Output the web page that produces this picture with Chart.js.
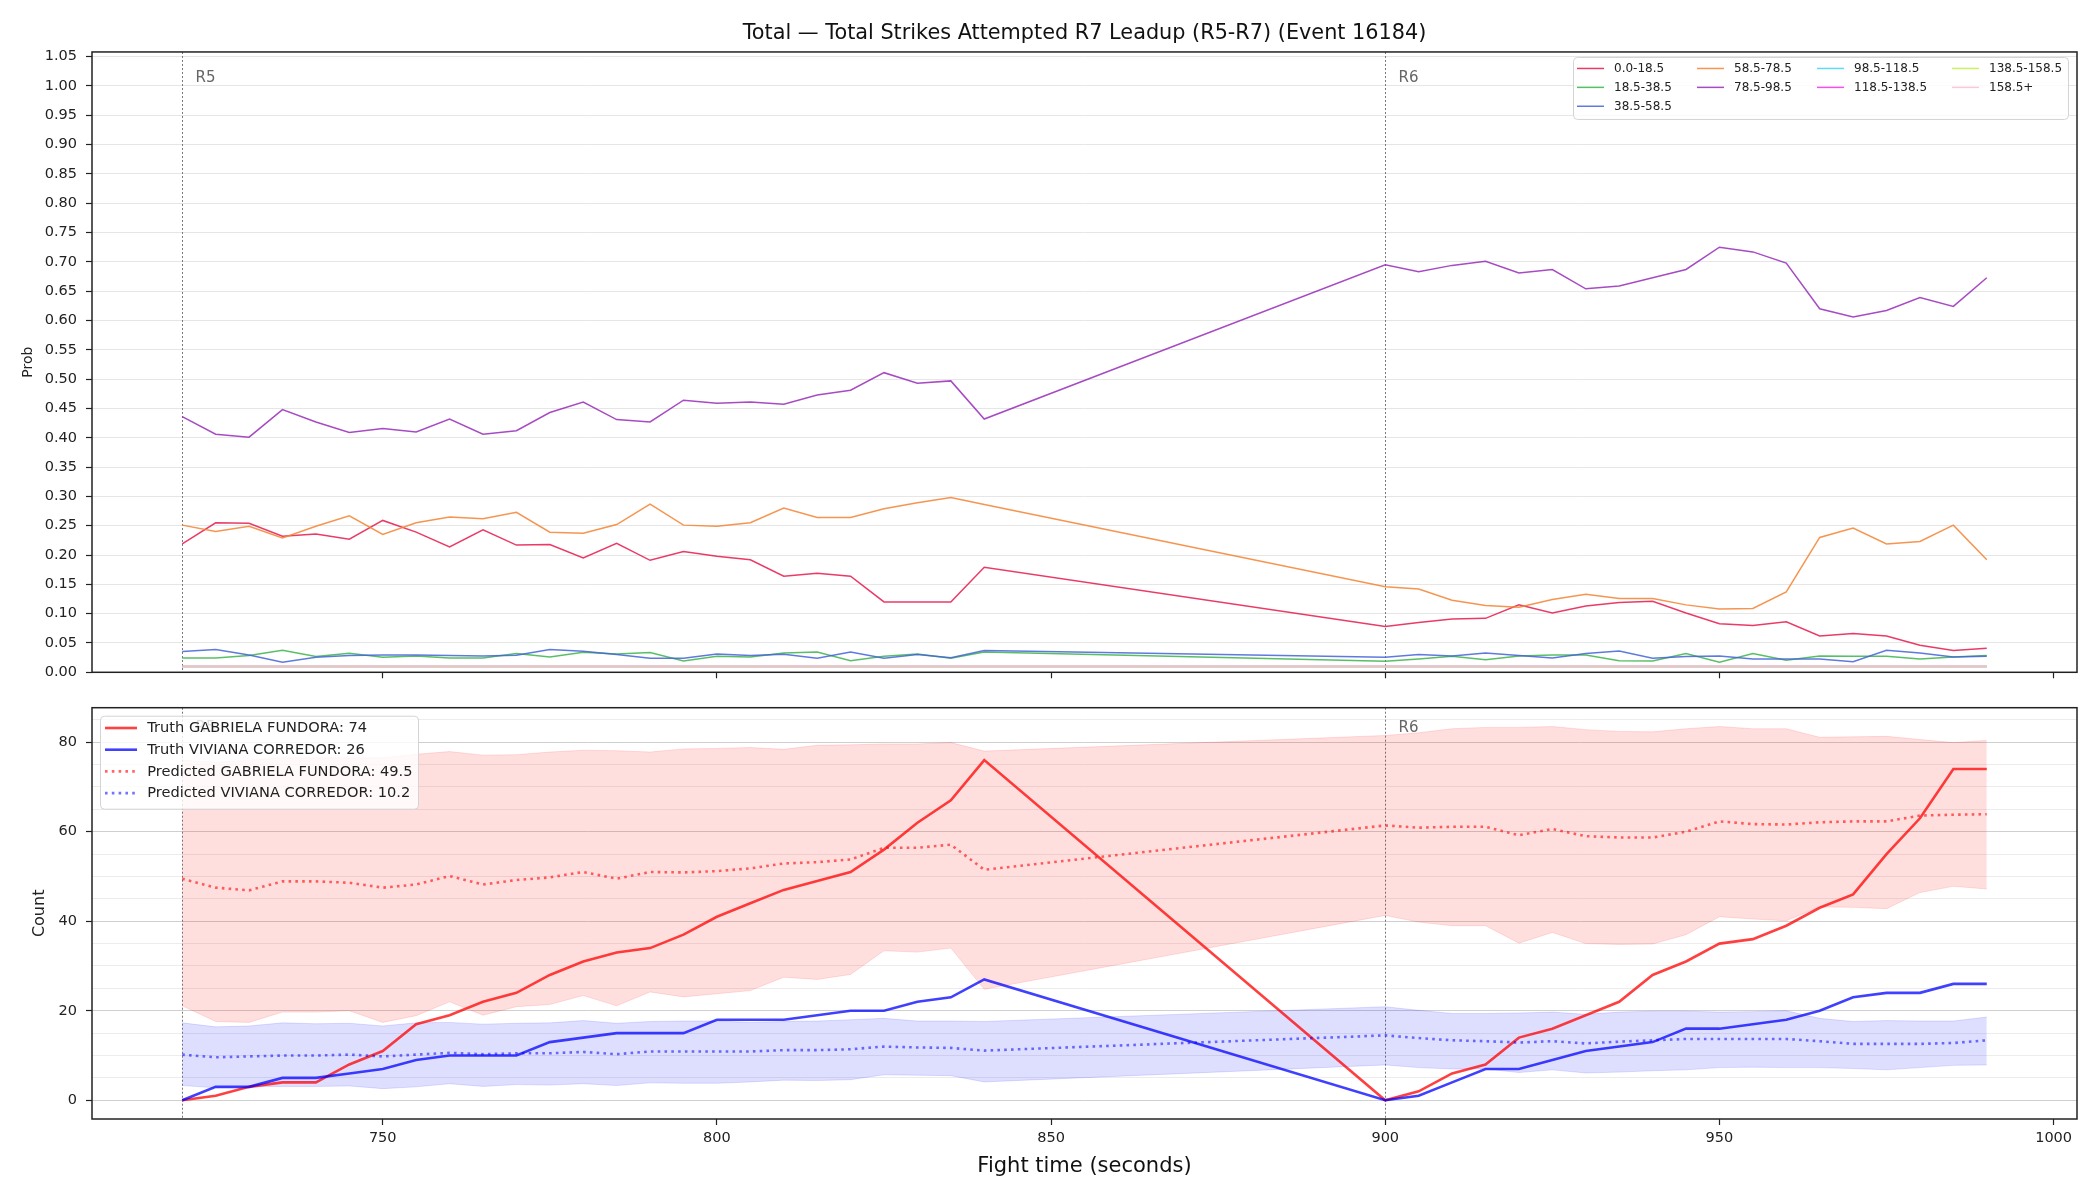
<!DOCTYPE html>
<html>
<head>
<meta charset="utf-8">
<title>Total Strikes Attempted R7 Leadup</title>
<script src="https://cdn.jsdelivr.net/npm/chart.js"></script>
<style>
  html, body { margin: 0; padding: 0; background: #fff; }
  #wrap { position: relative; width: 2100px; height: 1200px; }
  #probs { position: absolute; left: 0; top: 0; }
  #counts { position: absolute; left: 0; top: 690px; }
</style>
</head>
<body>
<div id="wrap">
  <canvas id="probs" width="2100" height="690"></canvas>
  <canvas id="counts" width="2100" height="510"></canvas>
</div>
<script>
const titleText = 'Total \u2014 Total Strikes Attempted R7 Leadup (R5-R7) (Event 16184)';

// fight time (s) of each sample; nothing recorded between 840 and 900
const times = [720, 725, 730, 735, 740, 745, 750, 755, 760, 765, 770, 775, 780, 785, 790, 795, 800, 805, 810, 815, 820, 825, 830, 835, 840,
  900, 905, 910, 915, 920, 925, 930, 935, 940, 945, 950, 955, 960, 965, 970, 975, 980, 985, 990];

const xTicks = [750, 800, 850, 900, 950, 1000];
const probTicks = [0, 0.05, 0.1, 0.15, 0.2, 0.25, 0.3, 0.35, 0.4, 0.45, 0.5, 0.55, 0.6, 0.65, 0.7, 0.75, 0.8, 0.85, 0.9, 0.95, 1.0, 1.05];
const countTicks = [0, 5, 10, 15, 20, 25, 30, 35, 40, 45, 50, 55, 60, 65, 70, 75, 80, 85];

const roundStarts = [720, 900];
const roundNames = ['R5', 'R6'];

// probability per bin
const bins = ['0.0-18.5', '18.5-38.5', '38.5-58.5', '58.5-78.5', '78.5-98.5', '98.5-118.5', '118.5-138.5', '138.5-158.5', '158.5+'];
const binColors = ['rgba(230,25,75,0.85)', 'rgba(60,180,75,0.85)', 'rgba(67,99,216,0.85)', 'rgba(245,130,49,0.85)',
  'rgba(145,30,180,0.8)', 'rgba(66,212,244,0.85)', 'rgba(240,50,230,0.85)', 'rgba(191,239,69,0.85)', 'rgba(250,190,212,0.85)'];

const pBin0 = [0.219, 0.255, 0.254, 0.232, 0.236, 0.227, 0.259, 0.239, 0.214, 0.243, 0.217, 0.218, 0.195, 0.220, 0.191, 0.206, 0.198, 0.192, 0.164, 0.169, 0.164, 0.120, 0.120, 0.120, 0.179,
  0.078, 0.085, 0.091, 0.092, 0.115, 0.101, 0.113, 0.119, 0.121, 0.101, 0.083, 0.080, 0.086, 0.062, 0.066, 0.062, 0.046, 0.037, 0.041];
const pBin1 = [0.0245, 0.0245, 0.0285, 0.0376, 0.0268, 0.0325, 0.0256, 0.0279, 0.0245, 0.0245, 0.0319, 0.0262, 0.0342, 0.0313, 0.0336, 0.0194, 0.0273, 0.0262, 0.033, 0.0347, 0.0199, 0.0273, 0.0313, 0.0239, 0.0347,
  0.0188, 0.0228, 0.0273, 0.0216, 0.0279, 0.0296, 0.0296, 0.0199, 0.0194, 0.0319, 0.0171, 0.0319, 0.0205, 0.0279, 0.0273, 0.0273, 0.0228, 0.0262, 0.0285];
const pBin2 = [0.0353, 0.0387, 0.0296, 0.0171, 0.0256, 0.0285, 0.0296, 0.0296, 0.0285, 0.0279, 0.029, 0.0387, 0.0359, 0.0302, 0.0239, 0.0239, 0.0313, 0.0285, 0.0308, 0.0239, 0.0347, 0.0239, 0.0302, 0.025, 0.037,
  0.0256, 0.0302, 0.0279, 0.033, 0.0285, 0.0245, 0.0319, 0.0364, 0.0239, 0.0268, 0.0279, 0.0228, 0.0228, 0.0228, 0.0182, 0.0376, 0.033, 0.0262, 0.0273];
const pBin3 = [0.251, 0.240, 0.249, 0.229, 0.249, 0.267, 0.235, 0.255, 0.265, 0.262, 0.273, 0.239, 0.237, 0.252, 0.287, 0.251, 0.249, 0.255, 0.280, 0.264, 0.264, 0.279, 0.289, 0.298, 0.286,
  0.146, 0.142, 0.123, 0.114, 0.111, 0.124, 0.133, 0.126, 0.126, 0.115, 0.108, 0.109, 0.137, 0.230, 0.246, 0.219, 0.223, 0.251, 0.192];
const pBin4 = [0.436, 0.406, 0.401, 0.448, 0.427, 0.409, 0.416, 0.410, 0.432, 0.406, 0.412, 0.443, 0.461, 0.431, 0.427, 0.464, 0.459, 0.461, 0.457, 0.473, 0.481, 0.511, 0.493, 0.497, 0.432,
  0.695, 0.683, 0.694, 0.701, 0.681, 0.687, 0.654, 0.659, 0.673, 0.687, 0.725, 0.717, 0.698, 0.620, 0.606, 0.617, 0.639, 0.624, 0.673];
const pBin5 = [0.010, 0.010, 0.010, 0.010, 0.010, 0.010, 0.010, 0.010, 0.010, 0.010, 0.010, 0.010, 0.010, 0.010, 0.010, 0.010, 0.010, 0.010, 0.010, 0.010, 0.010, 0.010, 0.010, 0.010, 0.010,
  0.010, 0.010, 0.010, 0.010, 0.010, 0.010, 0.010, 0.010, 0.010, 0.010, 0.010, 0.010, 0.010, 0.010, 0.010, 0.010, 0.010, 0.010, 0.010];
const pBin6 = [0.010, 0.010, 0.010, 0.010, 0.010, 0.010, 0.010, 0.010, 0.010, 0.010, 0.010, 0.010, 0.010, 0.010, 0.010, 0.010, 0.010, 0.010, 0.010, 0.010, 0.010, 0.010, 0.010, 0.010, 0.010,
  0.010, 0.010, 0.010, 0.010, 0.010, 0.010, 0.010, 0.010, 0.010, 0.010, 0.010, 0.010, 0.010, 0.010, 0.010, 0.010, 0.010, 0.010, 0.010];
const pBin7 = [0.010, 0.010, 0.010, 0.010, 0.010, 0.010, 0.010, 0.010, 0.010, 0.010, 0.010, 0.010, 0.010, 0.010, 0.010, 0.010, 0.010, 0.010, 0.010, 0.010, 0.010, 0.010, 0.010, 0.010, 0.010,
  0.010, 0.010, 0.010, 0.010, 0.010, 0.010, 0.010, 0.010, 0.010, 0.010, 0.010, 0.010, 0.010, 0.010, 0.010, 0.010, 0.010, 0.010, 0.010];
const pBin8 = [0.0103, 0.0103, 0.0103, 0.0103, 0.0103, 0.0103, 0.0103, 0.0103, 0.0103, 0.0103, 0.0103, 0.0103, 0.0103, 0.0103, 0.0103, 0.0103, 0.0103, 0.0103, 0.0103, 0.0103, 0.0103, 0.0103, 0.0103, 0.0103, 0.0103,
  0.0103, 0.0103, 0.0103, 0.0103, 0.0103, 0.0103, 0.0103, 0.0103, 0.0103, 0.0103, 0.0103, 0.0103, 0.0103, 0.0103, 0.0103, 0.0103, 0.0103, 0.0103, 0.0103];
const binSeries = [pBin0, pBin1, pBin2, pBin3, pBin4, pBin5, pBin6, pBin7, pBin8];

// counts
const truthGabriela = [0, 1, 3, 4, 4, 8, 11, 17, 19, 22, 24, 28, 31, 33, 34, 37, 41, 44, 47, 49, 51, 56, 62, 67, 76,
  0, 2, 6, 8, 14, 16, 19, 22, 28, 31, 35, 36, 39, 43, 46, 55, 63, 74, 74];
const truthViviana = [0, 3, 3, 5, 5, 6, 7, 9, 10, 10, 10, 13, 14, 15, 15, 15, 18, 18, 18, 19, 20, 20, 22, 23, 27,
  0, 1, 4, 7, 7, 9, 11, 12, 13, 16, 16, 17, 18, 20, 23, 24, 24, 26, 26];
const predGabriela = [49.5, 47.5, 46.9, 48.9, 48.9, 48.6, 47.5, 48.2, 50.1, 48.2, 49.2, 49.8, 51.0, 49.5, 51.0, 50.9, 51.2, 51.8, 52.9, 53.2, 53.8, 56.4, 56.4, 57.1, 51.5,
  61.4, 60.9, 61.1, 61.1, 59.2, 60.6, 59.0, 58.7, 58.7, 60.0, 62.3, 61.7, 61.6, 62.1, 62.3, 62.3, 63.6, 63.8, 63.9];
const predViviana = [10.2, 9.6, 9.8, 10.0, 10.0, 10.2, 9.8, 10.2, 10.6, 10.3, 10.5, 10.5, 10.8, 10.3, 10.9, 10.9, 10.9, 10.9, 11.2, 11.2, 11.4, 12.0, 11.8, 11.7, 11.1,
  14.5, 13.9, 13.4, 13.2, 12.9, 13.2, 12.7, 13.1, 13.4, 13.7, 13.7, 13.7, 13.7, 13.2, 12.6, 12.6, 12.6, 12.8, 13.4];
const bandHighGabriela = [76.0, 75.5, 76.0, 76.5, 76.5, 76.5, 76.5, 77.3, 77.9, 77.1, 77.2, 77.8, 78.2, 78.1, 77.8, 78.5, 78.6, 78.8, 78.4, 79.3, 79.4, 79.6, 79.6, 79.9, 78.0,
  81.5, 82.1, 83.0, 83.3, 83.3, 83.5, 82.8, 82.4, 82.3, 83.0, 83.5, 83.0, 83.0, 81.1, 81.2, 81.3, 80.6, 79.9, 80.4];
const bandLowGabriela = [21.1, 17.6, 17.4, 19.7, 19.7, 20.0, 17.4, 18.9, 22.0, 19.0, 20.9, 21.4, 23.4, 21.1, 24.2, 23.1, 23.8, 24.5, 27.5, 27.0, 28.1, 33.4, 33.1, 34.0, 24.8,
  41.3, 39.8, 39.0, 39.0, 35.1, 37.5, 35.0, 34.8, 34.9, 37.0, 41.0, 40.5, 40.1, 43.2, 43.1, 42.8, 46.4, 47.8, 47.2];
const bandHighViviana = [17.3, 16.4, 16.6, 17.3, 17.1, 17.2, 16.6, 17.3, 17.4, 17.0, 17.2, 17.3, 17.8, 17.2, 17.6, 17.7, 17.7, 17.4, 17.6, 17.7, 18.0, 18.3, 17.7, 17.7, 17.6,
  20.9, 20.1, 19.4, 19.4, 19.5, 19.7, 19.2, 19.7, 19.9, 19.9, 19.7, 19.8, 20.0, 18.3, 17.6, 17.8, 17.7, 17.7, 18.6];
const bandLowViviana = [3.3, 2.8, 3.0, 3.1, 3.1, 3.2, 2.6, 3.0, 3.7, 3.1, 3.5, 3.4, 3.7, 3.3, 3.9, 3.8, 3.8, 4.1, 4.5, 4.4, 4.6, 5.7, 5.6, 5.5, 4.1,
  7.9, 7.3, 7.0, 7.0, 6.2, 6.8, 6.1, 6.3, 6.6, 6.8, 7.3, 7.4, 7.3, 7.3, 7.1, 6.8, 7.3, 7.8, 7.9];

Chart.defaults.font.family = "'DejaVu Sans', sans-serif";
Chart.defaults.color = '#222';
Chart.defaults.elements.point.radius = 0;
Chart.defaults.elements.line.tension = 0;

function pts(values) {
  return times.map((t, i) => ({ x: t, y: values[i] }));
}

// frame, round markers and a column-major legend drawn in the canvas
const framePlugin = {
  id: 'frame',
  beforeDatasetsDraw(chart, args, opts) {
    const { ctx, chartArea: a, scales: { x } } = chart;
    ctx.save();
    roundStarts.forEach((t, i) => {
      const px = Math.round(x.getPixelForValue(t)) + 0.5;
      ctx.strokeStyle = '#777';
      ctx.lineWidth = 1;
      ctx.setLineDash([2, 2]);
      ctx.beginPath();
      ctx.moveTo(px, a.top);
      ctx.lineTo(px, a.bottom);
      ctx.stroke();
      ctx.setLineDash([]);
      ctx.fillStyle = '#666';
      ctx.font = "15px 'DejaVu Sans'";
      ctx.textBaseline = 'middle';
      ctx.fillText(roundNames[i], px + 13, a.top + opts.labelDy);
    });
    ctx.restore();
  },
  afterDraw(chart, args, opts) {
    const { ctx, chartArea: a } = chart;
    ctx.save();
    ctx.strokeStyle = '#222';
    ctx.lineWidth = 1.5;
    ctx.strokeRect(a.left, a.top, a.right - a.left, a.bottom - a.top);

    const lg = opts.legend;
    const bx = lg.alignRight ? a.right - lg.dx - lg.w : a.left + lg.dx;
    const by = a.top + lg.dy;
    ctx.beginPath();
    ctx.roundRect(bx + 0.5, by + 0.5, lg.w, lg.h, 4);
    ctx.fillStyle = 'rgba(255,255,255,0.8)';
    ctx.fill();
    ctx.strokeStyle = '#d4d4d4';
    ctx.lineWidth = 1;
    ctx.stroke();

    const items = chart.data.datasets.filter(d => d.inLegend);
    ctx.font = lg.font + "px 'DejaVu Sans'";
    ctx.textBaseline = 'middle';
    let col = 0, row = 0;
    items.forEach(d => {
      const hx = bx + lg.cols[col];
      const hy = by + lg.row0 + row * lg.rowStep;
      ctx.strokeStyle = d.borderColor;
      ctx.lineWidth = d.borderWidth;
      ctx.setLineDash(d.borderDash || []);
      ctx.beginPath();
      ctx.moveTo(hx, hy);
      ctx.lineTo(hx + lg.handle, hy);
      ctx.stroke();
      ctx.setLineDash([]);
      ctx.fillStyle = '#222';
      ctx.fillText(d.label, hx + lg.textDx, hy + 0.5);
      row++;
      if (row >= lg.perCol[col]) { row = 0; col++; }
    });
    ctx.restore();
  }
};

// Probability per bin
new Chart('probs', {
  type: 'line',
  data: {
    datasets: bins.map((b, i) => ({
      label: b,
      data: pts(binSeries[i]),
      borderColor: binColors[i],
      borderWidth: 1.5,
      inLegend: true,
      order: bins.length - i
    }))
  },
  options: {
    responsive: false,
    animation: false,
    layout: { padding: { left: 20, right: 23, top: 0, bottom: 0 } },
    plugins: {
      legend: { display: false },
      tooltip: { enabled: false },
      title: {
        display: true,
        fullSize: false,
        text: titleText,
        color: '#111',
        font: { size: 20.8, weight: 'normal' },
        padding: { top: 21, bottom: 6 }
      },
      frame: {
        labelDy: 26,
        legend: { alignRight: true, dx: 9, dy: 5, w: 495, h: 62, perCol: [3, 2, 2, 2], cols: [4, 124, 244, 379],
          row0: 11.5, rowStep: 18.9, handle: 27, textDx: 37, font: 12 }
      }
    },
    scales: {
      x: {
        type: 'linear',
        min: 706.5,
        max: 1003.5,
        afterBuildTicks: s => { s.ticks = xTicks.map(v => ({ value: v })); },
        afterFit: s => { s.height = 17; },
        border: { display: false },
        grid: { drawOnChartArea: false, tickLength: 6, tickColor: '#222', tickWidth: 1.2 },
        ticks: { callback: () => '' }
      },
      y: {
        min: 0,
        max: 1.058,
        afterBuildTicks: s => { s.ticks = probTicks.map(v => ({ value: v })); },
        afterFit: s => { s.width = 72; },
        border: { display: false },
        grid: { color: '#e6e6e6', tickColor: '#222', tickLength: 6, tickWidth: 1.2 },
        ticks: { callback: v => v.toFixed(2), padding: 9, font: { size: 14.5 }, color: '#222' },
        title: { display: true, text: 'Prob', font: { size: 14 }, padding: 0, color: '#222' }
      }
    }
  },
  plugins: [framePlugin]
});

// Counts, truth vs predicted
new Chart('counts', {
  type: 'line',
  data: {
    datasets: [
      { label: 'band low G', data: pts(bandLowGabriela), borderColor: 'rgba(255,0,0,0.12)', borderWidth: 1, fill: false, order: 20 },
      { label: 'band high G', data: pts(bandHighGabriela), borderColor: 'rgba(255,0,0,0.12)', borderWidth: 1,
        backgroundColor: 'rgba(255,0,0,0.13)', fill: '-1', order: 19 },
      { label: 'band low V', data: pts(bandLowViviana), borderColor: 'rgba(0,0,255,0.12)', borderWidth: 1, fill: false, order: 18 },
      { label: 'band high V', data: pts(bandHighViviana), borderColor: 'rgba(0,0,255,0.12)', borderWidth: 1,
        backgroundColor: 'rgba(0,0,255,0.13)', fill: '-1', order: 17 },
      { label: 'Truth GABRIELA FUNDORA: 74', data: pts(truthGabriela), borderColor: 'rgba(255,0,0,0.75)', borderWidth: 2.6, inLegend: true, order: 4 },
      { label: 'Truth VIVIANA CORREDOR: 26', data: pts(truthViviana), borderColor: 'rgba(0,0,255,0.75)', borderWidth: 2.6, inLegend: true, order: 3 },
      { label: 'Predicted GABRIELA FUNDORA: 49.5', data: pts(predGabriela), borderColor: 'rgba(255,0,0,0.6)', borderWidth: 2.6,
        borderDash: [2.6, 4.2], inLegend: true, order: 2 },
      { label: 'Predicted VIVIANA CORREDOR: 10.2', data: pts(predViviana), borderColor: 'rgba(0,0,255,0.55)', borderWidth: 2.6,
        borderDash: [2.6, 4.2], inLegend: true, order: 1 }
    ]
  },
  options: {
    responsive: false,
    animation: false,
    layout: { padding: { left: 30, right: 23, top: 14, bottom: 0 } },
    plugins: {
      legend: { display: false },
      tooltip: { enabled: false },
      filler: { propagate: false },
      frame: {
        labelDy: 20,
        legend: { alignRight: false, dx: 8, dy: 8, w: 318, h: 93, perCol: [4], cols: [5],
          row0: 12.3, rowStep: 21.7, handle: 32, textDx: 42.3, font: 14.6 }
      }
    },
    scales: {
      x: {
        type: 'linear',
        min: 706.5,
        max: 1003.5,
        afterBuildTicks: s => { s.ticks = xTicks.map(v => ({ value: v })); },
        afterFit: s => { s.height = 81; },
        border: { display: false },
        grid: { drawOnChartArea: false, tickLength: 6, tickColor: '#222', tickWidth: 1.2 },
        ticks: { callback: v => String(v), padding: 5, font: { size: 14.5 }, color: '#222' },
        title: { display: true, text: 'Fight time (seconds)', font: { size: 21 }, color: '#111', padding: { top: 0, bottom: 20.5 } }
      },
      y: {
        min: -4.18,
        max: 87.7,
        afterBuildTicks: s => { s.ticks = countTicks.map(v => ({ value: v })); },
        afterFit: s => { s.width = 62; },
        border: { display: false },
        grid: {
          color: c => (c.tick && c.tick.value % 20 === 0) ? '#cfcfcf' : '#ececec',
          tickColor: c => (c.tick && c.tick.value % 20 === 0) ? '#222' : 'rgba(0,0,0,0)',
          tickLength: 6,
          tickWidth: 1.2
        },
        ticks: { callback: v => (v % 20 === 0 ? String(v) : ''), padding: 9, font: { size: 14.5 }, color: '#222' },
        title: { display: true, text: 'Count', font: { size: 16 }, padding: 0, color: '#222' }
      }
    }
  },
  plugins: [framePlugin]
});
</script>
</body>
</html>
